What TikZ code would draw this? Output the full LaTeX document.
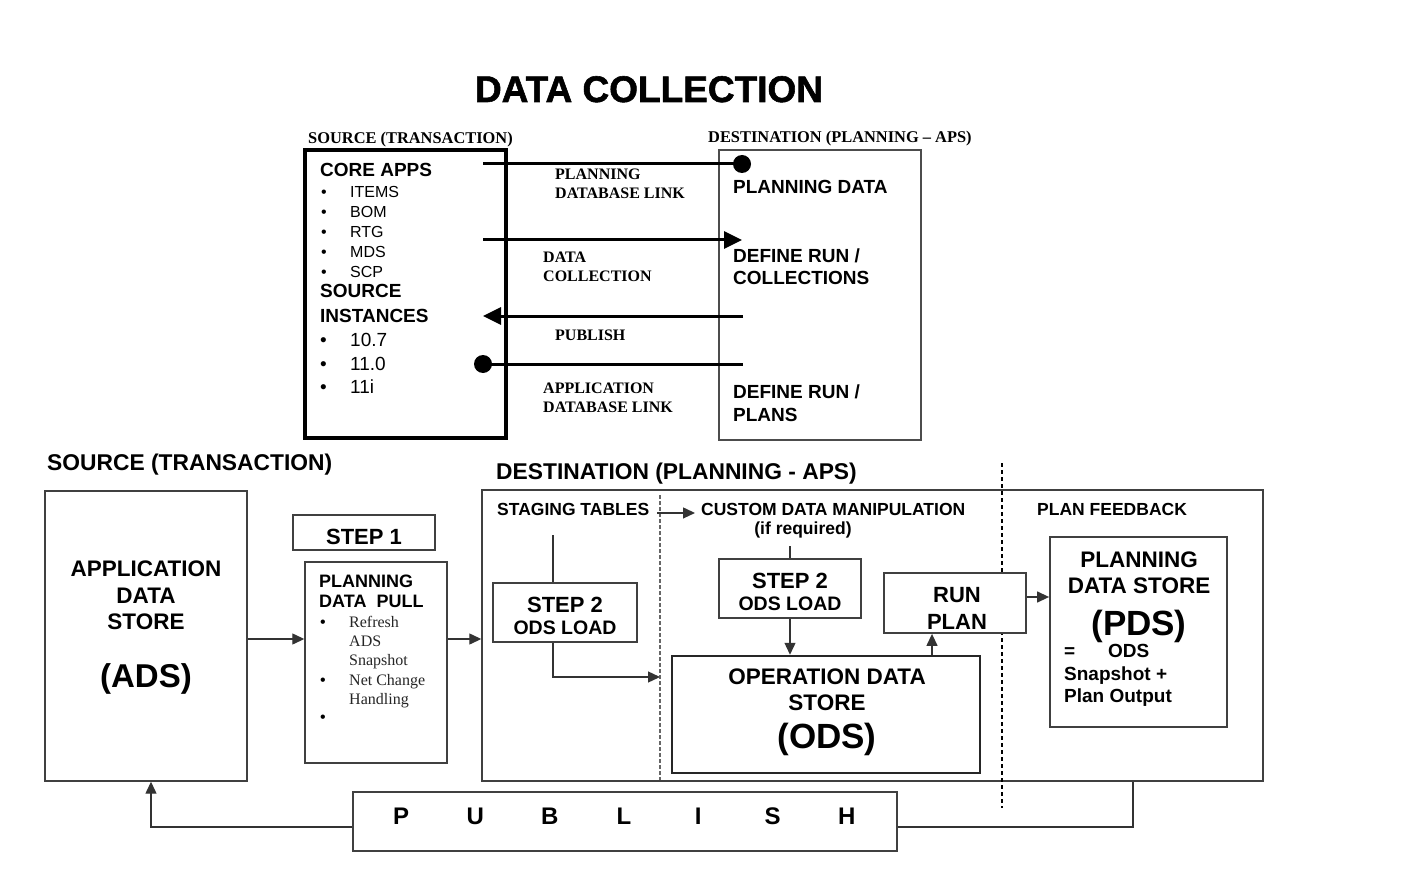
\documentclass[tikz,border=0pt]{standalone}
\usepackage{fontspec}
\setmainfont{Liberation Serif}
\setsansfont{Liberation Sans}
\usetikzlibrary{arrows.meta}
\newcommand{\fs}[1]{\fontsize{#1pt}{#1pt}\selectfont}
\tikzset{
  sf/.style={inner sep=0pt, font=\sffamily\bfseries\fs{#1}},
  sfr/.style={inner sep=0pt, font=\sffamily\fs{#1}},
  rmb/.style={inner sep=0pt, font=\rmfamily\bfseries\fs{#1}},
  rmr/.style={inner sep=0pt, font=\rmfamily\fs{#1}, text=black!85},
  box/.style={draw=black!75, line width=1.4pt, fill=white, inner sep=0pt},
  dot/.style={circle, fill, inner sep=0pt, minimum size=18pt},
  thickline/.style={line width=3pt},
  bigtip/.style={-{Triangle[length=18pt,width=17pt]}},
  arr/.style={line width=1.3pt, draw=black!80, -{Triangle[length=12pt,width=11pt]}}
}

\begin{document}
\begin{tikzpicture}[x=1pt, y=-1pt]
\useasboundingbox (0,0) rectangle (1421,877);

% title
\node[inner sep=0pt, font=\sffamily\bfseries\fs{37}\addfontfeature{FakeBold=1.5}, anchor=base] (title) at (649,102) {DATA COLLECTION};

% top part: source and destination
\node[rmb=16.4, anchor=base west] (srchd) at (308,144) {SOURCE (TRANSACTION)};
\node[rmb=16.4, anchor=base west] (dsthd) at (708,143) {DESTINATION (PLANNING – APS)};
\node[draw, line width=3.5pt, minimum width=201pt, minimum height=288pt, inner sep=0pt] (src) at (405.5,294) {};
\node[draw=black!70, line width=1.6pt, minimum width=202pt, minimum height=290pt, inner sep=0pt] (dst) at (820,295) {};

\node[sf=19, anchor=base west] (coreapps) at (320,177) {CORE APPS};
\node[sfr=16, anchor=base west] (b1) at (321,198) {\textbullet};
\node[sfr=16, anchor=base west] (items) at (350,198) {ITEMS};
\node[sfr=16, anchor=base west] (b2) at (321,218) {\textbullet};
\node[sfr=16, anchor=base west] (bom) at (350,218) {BOM};
\node[sfr=16, anchor=base west] (b3) at (321,238) {\textbullet};
\node[sfr=16, anchor=base west] (rtg) at (350,238) {RTG};
\node[sfr=16, anchor=base west] (b4) at (321,258) {\textbullet};
\node[sfr=16, anchor=base west] (mds) at (350,258) {MDS};
\node[sfr=16, anchor=base west] (b5) at (321,278) {\textbullet};
\node[sfr=16, anchor=base west] (scp) at (350,278) {SCP};
\node[sf=19, anchor=base west] (srcinst) at (320,298) {SOURCE};
\node[sf=19, anchor=base west] (srcinst2) at (320,322) {INSTANCES};
\node[sfr=19, anchor=base west] (b6) at (320,346) {\textbullet};
\node[sfr=19, anchor=base west] (v107) at (350,346) {10.7};
\node[sfr=19, anchor=base west] (b7) at (320,370) {\textbullet};
\node[sfr=19, anchor=base west] (v110) at (350,370) {11.0};
\node[sfr=19, anchor=base west] (b8) at (320,393) {\textbullet};
\node[sfr=19, anchor=base west] (v11i) at (350,393) {11i};

\node[sf=19, anchor=base west] (pdata) at (733,194) {PLANNING DATA};
\node[sf=19, anchor=base west] (drc) at (733,262) {DEFINE RUN /};
\node[sf=19, anchor=base west] (drc2) at (733,285) {COLLECTIONS};
\node[sf=19, anchor=base west] (drp) at (733,398) {DEFINE RUN /};
\node[sf=19, anchor=base west] (drp2) at (733,421) {PLANS};

% links between the two
\coordinate (pll) at (483,164);
\node[dot] (pdot) at (742,164) {};
\draw[thickline] (pll) -- (pdot.center);
\coordinate (dcl) at (483,240);
\coordinate (dcr) at (742,240);
\draw[thickline, bigtip] (dcl) -- (dcr);
\coordinate (pbr) at (743,316);
\coordinate (pbl) at (483,316);
\draw[thickline, bigtip] (pbr) -- (pbl);
\node[dot] (adot) at (483,364) {};
\coordinate (adr) at (743,364);
\draw[thickline] (adot.center) -- (adr);

\node[rmb=16, anchor=base west] (pdl) at (555,180) {PLANNING};
\node[rmb=16, anchor=base west] (pdl2) at (555,199) {DATABASE LINK};
\node[rmb=16, anchor=base west] (dcol) at (543,263) {DATA};
\node[rmb=16, anchor=base west] (dcol2) at (543,281) {COLLECTION};
\node[rmb=16, anchor=base west] (publ) at (555,340) {PUBLISH};
\node[rmb=16, anchor=base west] (adl) at (543,393) {APPLICATION};
\node[rmb=16, anchor=base west] (adl2) at (543,412) {DATABASE LINK};

% bottom part
\node[sf=22.8, anchor=base west] (srchd2) at (47,470) {SOURCE (TRANSACTION)};
\node[sf=22.8, anchor=base west] (dsthd2) at (496,479) {DESTINATION (PLANNING - APS)};

\node[box, minimum width=202pt, minimum height=290pt] (ads) at (146,636) {};
\node[sf=22.5, anchor=base] (ads1) at (146,576) {APPLICATION};
\node[sf=22.5, anchor=base] (ads2) at (146,603) {DATA};
\node[sf=22.5, anchor=base] (ads3) at (146,629) {STORE};
\node[sf=33, anchor=base] (ads4) at (146,687) {(ADS)};

\node[box, minimum width=142pt, minimum height=35pt] (step1) at (364,532.5) {};
\node[sf=22, anchor=base] (step1t) at (364,544) {STEP 1};
\node[box, minimum width=142pt, minimum height=201pt] (pdp) at (376,662.5) {};
\node[sf=18, anchor=base west] (pdp1) at (319,587) {PLANNING};
\node[sf=18, anchor=base west] (pdp2) at (319,607) {DATA\ \ PULL};
\node[sfr=16, anchor=base west] (pb1) at (320,627) {\textbullet};
\node[rmr=16, anchor=base west] (refr) at (349,627) {Refresh};
\node[rmr=16, anchor=base west] (refr2) at (349,646) {ADS};
\node[rmr=16, anchor=base west] (refr3) at (349,665) {Snapshot};
\node[sfr=16, anchor=base west] (pb2) at (320,685) {\textbullet};
\node[rmr=16, anchor=base west] (netc) at (349,685) {Net Change};
\node[rmr=16, anchor=base west] (netc2) at (349,704) {Handling};
\node[sfr=16, anchor=base west] (pb3) at (320,722) {\textbullet};

\node[box, minimum width=781pt, minimum height=291pt, fill=none] (dest) at (872.5,635.5) {};
\coordinate (d1t) at (660,495);
\coordinate (d1b) at (660,780);
\draw[black!60, line width=1.2pt, dash pattern=on 4pt off 2pt] (d1t) -- (d1b);
\coordinate (d2t) at (1002,463);
\coordinate (d2b) at (1002,808);
\draw[line width=2pt, dash pattern=on 4pt off 3pt] (d2t) -- (d2b);

\node[sf=17.5, anchor=base west] (stg) at (497,515) {STAGING TABLES};
\node[sf=17.5, anchor=base west] (cdm) at (701,515) {CUSTOM DATA MANIPULATION};
\node[sf=17.5, anchor=base] (ifreq) at (803,534) {(if required)};
\node[sf=17.5, anchor=base west] (pfb) at (1037,515) {PLAN FEEDBACK};

\node[box, minimum width=144pt, minimum height=59pt] (s2a) at (565,612.5) {};
\node[sf=22, anchor=base] (s2a1) at (565,612) {STEP 2};
\node[sf=19.5, anchor=base] (s2a2) at (565,634) {ODS LOAD};
\node[box, minimum width=142pt, minimum height=59pt] (s2b) at (790,588.5) {};
\node[sf=22, anchor=base] (s2b1) at (790,588) {STEP 2};
\node[sf=19.5, anchor=base] (s2b2) at (790,610) {ODS LOAD};

\node[box, draw=black!85, line width=2.5pt, minimum width=308pt, minimum height=117pt] (ods) at (826,714.5) {};
\node[sf=22.5, anchor=base] (ods1) at (827,684) {OPERATION DATA};
\node[sf=22.5, anchor=base] (ods2) at (827,710) {STORE};
\node[sf=35, anchor=base] (ods3) at (827,748) {(ODS)};

\node[box, line width=1.8pt, minimum width=142pt, minimum height=60pt] (rp) at (955,603) {};
\node[sf=22, anchor=base] (rp1) at (957,602) {RUN};
\node[sf=22, anchor=base] (rp2) at (957,629) {PLAN};

\node[box, line width=1.8pt, minimum width=177pt, minimum height=190pt] (pds) at (1138.5,632) {};
\node[sf=22.5, anchor=base] (pds1) at (1139,567) {PLANNING};
\node[sf=22.5, anchor=base] (pds2) at (1139,593) {DATA STORE};
\node[sf=35, anchor=base] (pds3) at (1139,635) {(PDS)};
\node[sf=19, anchor=base west] (pds4) at (1064,657) {=};
\node[sf=19, anchor=base west] (pds5) at (1108,657) {ODS};
\node[sf=19, anchor=base west] (pds6) at (1064,680) {Snapshot +};
\node[sf=19, anchor=base west] (pds7) at (1064,702) {Plan Output};

\node[box, minimum width=544pt, minimum height=59pt] (pub) at (625,821.5) {};
\node[sf=24, anchor=base] (pubt) at (624,824) {\makebox[74.3pt]{P}\makebox[74.3pt]{U}\makebox[74.3pt]{B}\makebox[74.3pt]{L}\makebox[74.3pt]{I}\makebox[74.3pt]{S}\makebox[74.3pt]{H}};

% connectors
\coordinate (row) at (0,639);
\draw[arr] (ads.east |- row) -- (pdp.west |- row);
\draw[arr] (pdp.east |- row) -- (dest.west |- row);
\coordinate (stgtop) at (553,535);
\draw[line width=1.3pt, draw=black!80] (stgtop) -- (stgtop |- s2a.north);
\coordinate (stgend) at (660,677);
\draw[arr] (stgtop |- s2a.south) |- (stgend);
\draw[arr, shorten <=8pt, shorten >=6pt] ([yshift=-4pt]stg.east) -- ([yshift=-4pt]stg.east -| cdm.west);
\draw[line width=1.3pt, draw=black!80] (s2b.north) -- ++(0,-12);
\draw[arr] (s2b.south) -- (s2b.south |- ods.north);
\coordinate (rpx) at (932,0);
\draw[arr] (rpx |- ods.north) -- (rpx |- rp.south);
\coordinate (row2) at (0,597);
\draw[arr] (rp.east |- row2) -- (pds.west |- row2);
\coordinate (pubrow) at (0,827);
\coordinate (adsx) at (151,0);
\coordinate (fbx) at (1133,0);
\draw[arr] (pub.west |- pubrow) -| (adsx |- ads.south);
\draw[line width=1.3pt, draw=black!80] (pub.east |- pubrow) -| (fbx |- dest.south);
\end{tikzpicture}
\end{document}
